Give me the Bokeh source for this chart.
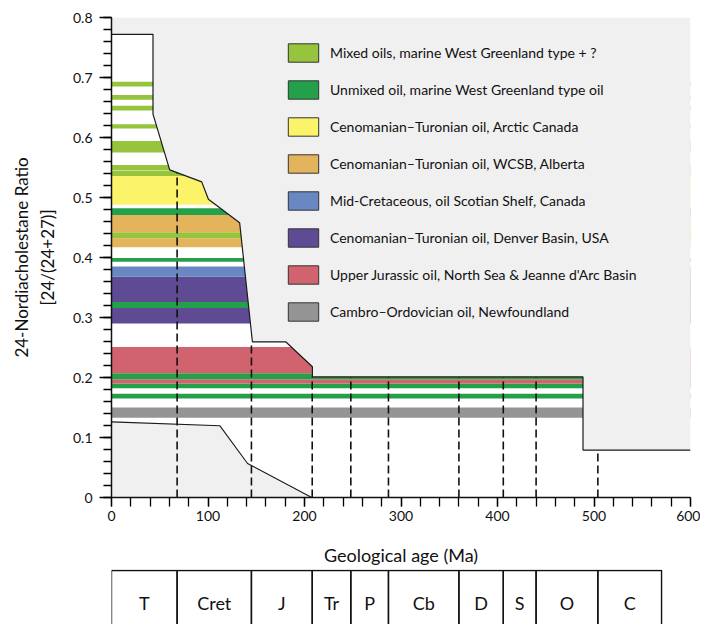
import numpy as np
from bokeh.plotting import figure
from bokeh.models import (Range1d, LinearAxis, FixedTicker, Legend, LegendItem,
                          ColumnDataSource)
from bokeh.layouts import column
from bokeh.embed import file_html
from bokeh.resources import INLINE
from bokeh.core.properties import value

FONT = "Lato"

# ---------------- data ----------------
oil_labels = [
    "Mixed oils, marine West Greenland type + ?",
    "Unmixed oil, marine West Greenland type oil",
    "Cenomanian\u2013Turonian oil, Arctic Canada",
    "Cenomanian\u2013Turonian oil, WCSB, Alberta",
    "Mid-Cretaceous, oil Scotian Shelf, Canada",
    "Cenomanian\u2013Turonian oil, Denver Basin, USA",
    "Upper Jurassic oil, North Sea & Jeanne d'Arc Basin",
    "Cambro\u2013Ordovician oil, Newfoundland",
]
oil_colors = ["#96c43d", "#24a04a", "#fbf46b", "#e4b45d",
              "#6987c3", "#5f4b94", "#d1636f", "#949494"]

# horizontal ratio bands (index into oil_labels)
band_oil = [7, 1, 1, 6, 1, 6, 5, 1, 5, 4, 1, 3, 0, 3, 1, 2,
            0, 0, 0, 0, 0, 0, 0]
band_bottom = [0.133, 0.165, 0.182, 0.190, 0.197, 0.207, 0.290, 0.316,
               0.326, 0.368, 0.393, 0.417, 0.432, 0.442, 0.471, 0.488,
               0.536, 0.546, 0.575, 0.615, 0.645, 0.663, 0.685]
band_top = [0.150, 0.173, 0.190, 0.197, 0.207, 0.251, 0.316, 0.326,
            0.368, 0.385, 0.399, 0.432, 0.442, 0.471, 0.482, 0.536,
            0.545, 0.554, 0.594, 0.622, 0.653, 0.671, 0.693]

# upper envelope of ratios through time
envelope_age = [0, 43, 43, 60.3, 93.5, 100.4, 132.8, 146.0, 180.5,
                208.2, 208.2, 488.6, 488.6, 600]
envelope_ratio = [0.772, 0.772, 0.639, 0.546, 0.526, 0.497, 0.458,
                  0.2595, 0.2595, 0.218, 0.201, 0.201, 0.079, 0.079]
# lower envelope
lower_age = [0, 112.4, 141, 207.5]
lower_ratio = [0.126, 0.1195, 0.0567, 0.0]

# geological period boundaries (Ma)
boundary_age = [0, 68, 145, 208, 248, 287, 360, 406, 440, 504, 570]
period_labels = ["T", "Cret", "J", "Tr", "P", "Cb", "D", "S", "O", "C"]
dash_age = [68, 145, 208, 248, 287, 360, 406, 440, 504]
dash_top = [0.541, 0.2595, 0.201, 0.201, 0.201, 0.201, 0.201, 0.201, 0.079]

y_ticks = [0, 0.1, 0.2, 0.3, 0.4, 0.5, 0.6, 0.7, 0.8]
y_tick_labels = ["0", "0.1", "0.2", "0.3", "0.4", "0.5", "0.6", "0.7", "0.8"]
x_ticks = [0, 100, 200, 300, 400, 500, 600]
x_tick_labels = ["0", "100", "200", "300", "400", "500", "600"]

# ---------------- main figure ----------------
p = figure(width=700, height=568, x_range=Range1d(0, 600), y_range=Range1d(0, 0.8),
           toolbar_location=None, output_backend="svg",
           min_border_left=111, min_border_right=10, min_border_top=17,
           min_border_bottom=71)
p.outline_line_color = None
p.grid.visible = False
p.background_fill_color = "white"
p.border_fill_color = "white"

band_src = ColumnDataSource(dict(
    left=[0] * len(band_bottom),
    right=[600] * len(band_bottom),
    bottom=band_bottom, top=band_top,
    color=[oil_colors[i] for i in band_oil]))
p.quad(left="left", right="right", bottom="bottom", top="top",
       fill_color="color", line_color=None, source=band_src)

# grey area above upper envelope
p.patch(envelope_age + [600, 0], envelope_ratio + [0.8, 0.8],
        fill_color="#f0f0f0", line_color=None)
# grey area below lower envelope
p.patch(lower_age + [0], lower_ratio + [0],
        fill_color="#f0f0f0", line_color=None)
p.line(envelope_age, envelope_ratio, line_color="#1a1a1a", line_width=1.2)
p.line(lower_age, lower_ratio, line_color="#1a1a1a", line_width=1.1)

p.segment(x0=dash_age, y0=[0] * len(dash_age), x1=dash_age, y1=dash_top,
          line_color="#111111", line_width=1.6, line_dash="8 4")

# axes
xa = p.xaxis[0]
xa.ticker = FixedTicker(ticks=x_ticks,
                        minor_ticks=list(np.arange(0, 601, 20)))
xa.major_label_overrides = {t: l for t, l in zip(x_ticks, x_tick_labels)}
xa.axis_label = "Geological age (Ma)"
xa.axis_label_text_font = FONT
xa.axis_label_text_font_size = "18px"
xa.axis_label_text_font_style = "normal"
xa.axis_label_text_color = "#111111"
xa.axis_label_standoff = 20
xa.major_label_text_font = FONT
xa.major_label_text_font_size = "14px"
xa.major_label_text_color = "#111111"
xa.major_label_standoff = 4
xa.major_tick_out = 9
xa.major_tick_in = 0
xa.minor_tick_out = 9
xa.minor_tick_in = 0
xa.axis_line_width = 1.5
xa.major_tick_line_width = 1.3
xa.minor_tick_line_width = 1.3
xa.axis_line_color = "#111111"

ya = p.yaxis[0]
ya.ticker = FixedTicker(ticks=y_ticks,
                        minor_ticks=[round(v, 2) for v in np.arange(0, 0.81, 0.02)])
ya.major_label_overrides = {t: l for t, l in zip(y_ticks, y_tick_labels)}
ya.axis_label = "[24/(24+27)]"
ya.axis_label_text_font = FONT
ya.axis_label_text_font_size = "17px"
ya.axis_label_text_font_style = "normal"
ya.axis_label_text_color = "#111111"
ya.axis_label_standoff = 12
ya.major_label_text_font = FONT
ya.major_label_text_font_size = "14px"
ya.major_label_text_color = "#111111"
ya.major_label_standoff = 7
ya.major_tick_out = 12
ya.major_tick_in = 0
ya.minor_tick_out = 8
ya.minor_tick_in = 0
ya.axis_line_width = 1.5
ya.major_tick_line_width = 1.3
ya.minor_tick_line_width = 1.3
ya.axis_line_color = "#111111"

ya2 = LinearAxis(ticker=FixedTicker(ticks=[]), axis_line_color=None,
                 major_tick_out=0, major_tick_in=0, minor_tick_out=0, minor_tick_in=0,
                 major_label_text_font_size="0px",
                 axis_label="24-Nordiacholestane Ratio",
                 axis_label_text_font=FONT, axis_label_text_font_size="17px",
                 axis_label_text_font_style="normal",
                 axis_label_text_color="#111111", axis_label_standoff=2)
p.add_layout(ya2, "left")

# legend (proxy renderers with a single NaN row so nothing is drawn in the plot)
items = []
nan = float("nan")
for lab, col in zip(oil_labels, oil_colors):
    r = p.quad(left=[nan], right=[nan], top=[nan], bottom=[nan], fill_color=col,
               line_color="#333333", line_width=1)
    items.append(LegendItem(label=lab, renderers=[r]))
legend = Legend(items=items, location=(173, 174), glyph_width=38,
                glyph_height=23, spacing=14, padding=0, margin=0,
                label_standoff=8, label_text_font=FONT,
                label_text_font_size="14px", label_text_color="#111111",
                background_fill_alpha=0, border_line_color=None)
p.add_layout(legend)

# ---------------- time-scale strip ----------------
p2 = figure(width=700, height=56, x_range=p.x_range, y_range=Range1d(-1, 0.0185),
            toolbar_location=None, output_backend="svg",
            x_axis_location=None, y_axis_location=None,
            min_border_left=111, min_border_right=10, min_border_top=1,
            min_border_bottom=0)
p2.outline_line_color = None
p2.grid.visible = False
p2.quad(left=boundary_age[:-1], right=boundary_age[1:],
        top=[0] * len(period_labels), bottom=[-2] * len(period_labels),
        fill_color=None, line_color="#111111", line_width=1.4)
centers = [(a + b) / 2 for a, b in zip(boundary_age[:-1], boundary_age[1:])]
p2.text(x=centers, y=[-0.61] * len(centers), text=period_labels,
        text_align="center", text_baseline="middle",
        text_font=value(FONT), text_font_size="18px", text_color="#111111")

layout = column(p, p2, spacing=0)
open("out.html", "w").write(file_html(layout, INLINE))
